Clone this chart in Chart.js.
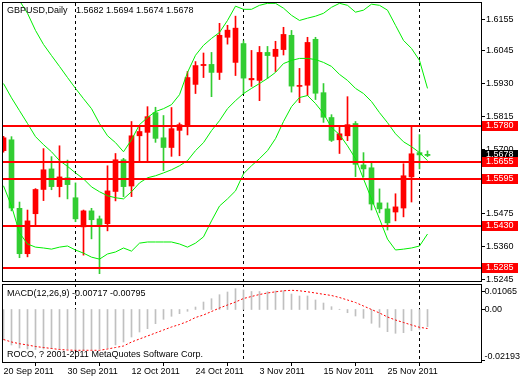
<!DOCTYPE html>
<html><head><meta charset="utf-8">
<script src="https://cdn.jsdelivr.net/npm/chart.js@4/dist/chart.umd.min.js"></script>
<style>
html,body{margin:0;padding:0;background:#fff;width:520px;height:380px;overflow:hidden;}
canvas{position:absolute;left:0;}
#main{top:0}
#macd{top:282px}
</style></head><body>
<canvas id="main" width="520" height="282"></canvas>
<canvas id="macd" width="520" height="98"></canvas>
<script>
// ---------- data ----------
const symbolTitle = 'GBPUSD,Daily';
const lastQuote = '1.5682 1.5694 1.5674 1.5678';
const macdTitle = 'MACD(12,26,9) -0.00717 -0.00795';
const footerText = 'ROCO, ? 2001-2011 MetaQuotes Software Corp.';

const dateTickIdx = [0, 8, 16, 24, 32, 40, 48];
const dateTickLabels = ['20 Sep 2011','30 Sep 2011','12 Oct 2011','24 Oct 2011','3 Nov 2011','15 Nov 2011','25 Nov 2011'];
const separatorIdx = [9, 30, 52];

const open = [1.5695,1.5733,1.5493,1.5334,1.5474,1.5559,1.5631,1.5569,1.5600,1.5530,
1.5428,1.5484,1.5456,1.5439,1.5552,1.5663,1.5571,1.5747,1.5759,1.5828,
1.5740,1.5706,1.5766,1.5780,1.5927,1.5993,1.5997,1.5969,1.6092,1.6004,
1.6070,1.5943,1.5941,1.6039,1.6025,1.6049,1.6099,1.5920,1.5924,1.6085,
1.5898,1.5811,1.5733,1.5747,1.5790,1.5645,1.5635,1.5512,1.5491,1.5480,
1.5494,1.5603,1.5688,1.5682];
const high = [1.5745,1.5744,1.5515,1.5487,1.5562,1.5702,1.5674,1.5712,1.5662,1.5582,
1.5487,1.5493,1.5466,1.5642,1.5685,1.5668,1.5797,1.5780,1.5849,1.5847,
1.5818,1.5846,1.5792,1.5972,1.6007,1.6037,1.6039,1.6141,1.6134,1.6166,
1.6080,1.6046,1.6060,1.6060,1.6078,1.6127,1.6116,1.5983,1.6092,1.6092,
1.5930,1.5821,1.5779,1.5884,1.5797,1.5688,1.5652,1.5561,1.5512,1.5544,
1.5649,1.5779,1.5751,1.5694];
const low = [1.5690,1.5484,1.5320,1.5323,1.5431,1.5520,1.5558,1.5533,1.5526,1.5446,
1.5329,1.5386,1.5264,1.5414,1.5519,1.5534,1.5534,1.5654,1.5657,1.5724,
1.5625,1.5675,1.5677,1.5750,1.5895,1.5951,1.5884,1.5944,1.6068,1.5958,
1.5895,1.5920,1.5870,1.5948,1.5972,1.6030,1.5900,1.5863,1.5888,1.5874,
1.5794,1.5727,1.5685,1.5730,1.5604,1.5603,1.5487,1.5477,1.5417,1.5449,
1.5463,1.5515,1.5631,1.5674];
const close = [1.5740,1.5494,1.5334,1.5449,1.5559,1.5628,1.5569,1.5603,1.5576,1.5456,
1.5484,1.5453,1.5436,1.5554,1.5663,1.5569,1.5747,1.5762,1.5814,1.5738,
1.5706,1.5772,1.5786,1.5951,1.5993,1.5997,1.5969,1.6099,1.6117,1.6124,
1.5949,1.5948,1.6039,1.6028,1.6050,1.6102,1.5921,1.5923,1.6074,1.5896,
1.5812,1.5731,1.5754,1.5786,1.5647,1.5631,1.5508,1.5491,1.5442,1.5498,
1.5607,1.5684,1.5680,1.5678];

const bbUpper = [1.6290,1.6255,1.6220,1.6176,1.6116,1.6067,1.6028,1.5990,1.5951,1.5913,
1.5877,1.5842,1.5790,1.5747,1.5723,1.5691,1.5733,1.5786,1.5811,1.5832,
1.5842,1.5856,1.5891,1.5969,1.6029,1.6064,1.6088,1.6109,1.6151,1.6201,
1.6190,1.6190,1.6204,1.6211,1.6211,1.6194,1.6169,1.6151,1.6159,1.6166,
1.6176,1.6197,1.6211,1.6204,1.6180,1.6187,1.6208,1.6204,1.6187,1.6134,
1.6081,1.6053,1.6011,1.5913];
const bbMiddle = [1.5930,1.5880,1.5835,1.5790,1.5744,1.5716,1.5691,1.5660,1.5640,1.5617,
1.5596,1.5568,1.5551,1.5537,1.5530,1.5526,1.5551,1.5582,1.5600,1.5607,
1.5617,1.5628,1.5642,1.5660,1.5695,1.5723,1.5765,1.5800,1.5842,1.5870,
1.5895,1.5913,1.5930,1.5948,1.5969,1.6000,1.6011,1.6018,1.6018,1.6014,
1.6004,1.5990,1.5962,1.5941,1.5913,1.5895,1.5867,1.5828,1.5793,1.5754,
1.5726,1.5709,1.5688,1.5660];
const bbLower = [1.5572,1.5501,1.5407,1.5368,1.5357,1.5354,1.5350,1.5357,1.5361,1.5347,
1.5336,1.5322,1.5315,1.5333,1.5340,1.5354,1.5343,1.5371,1.5375,1.5375,
1.5375,1.5375,1.5368,1.5357,1.5371,1.5393,1.5449,1.5501,1.5526,1.5554,
1.5614,1.5642,1.5667,1.5695,1.5737,1.5797,1.5849,1.5881,1.5888,1.5860,
1.5825,1.5776,1.5751,1.5712,1.5667,1.5596,1.5526,1.5456,1.5385,1.5347,
1.5350,1.5354,1.5361,1.5403];

const levels = [1.5780, 1.5655, 1.5595, 1.5430, 1.5285];
const lastPrice = 1.5678;
const priceTicks = [1.6155, 1.6045, 1.5930, 1.5815, 1.5700, 1.5475, 1.5360, 1.5245];
const priceMin = 1.52384, priceMax = 1.62121;

const macdMain = [-0.01274,-0.01483,-0.01608,-0.01650,-0.01671,-0.01650,-0.01629,-0.01650,-0.01650,-0.01671,
-0.01692,-0.01671,-0.01650,-0.01608,-0.01483,-0.01358,-0.01149,-0.00940,-0.00802,-0.00593,
-0.00409,-0.00284,-0.00175,-0.00075,0.00104,0.00313,0.00451,0.00618,0.00731,0.00869,
0.00815,0.00752,0.00752,0.00744,0.00773,0.00785,0.00647,0.00564,0.00564,0.00397,
0.00271,0.00117,0.00010,-0.00134,-0.00272,-0.00368,-0.00576,-0.00744,-0.00927,-0.00994,
-0.00969,-0.00886,-0.00827,-0.00717];
const macdSignal = [-0.01253,-0.01358,-0.01429,-0.01483,-0.01546,-0.01587,-0.01629,-0.01671,-0.01692,-0.01704,
-0.01704,-0.01704,-0.01704,-0.01650,-0.01587,-0.01525,-0.01358,-0.01232,-0.01107,-0.00982,
-0.00856,-0.00731,-0.00627,-0.00501,-0.00334,-0.00230,-0.00084,0.00063,0.00188,0.00313,
0.00459,0.00543,0.00627,0.00689,0.00739,0.00781,0.00802,0.00781,0.00739,0.00689,
0.00635,0.00585,0.00501,0.00397,0.00292,0.00146,0.00000,-0.00146,-0.00313,-0.00439,
-0.00543,-0.00647,-0.00744,-0.00795];
const macdTicks = [0.01065, 0, -0.02193];
const macdTickLabels = ['0.01065', '0.00', '-0.02193'];

// ---------- styling ----------
const FAMILY = "'Liberation Sans', Arial, sans-serif";
const FONT = '9px ' + FAMILY;
const BULL = '#ff0000', BEAR = '#32cd32', BAND = '#00ee00';
const XMIN = -0.0625, XMAX = 59.6875;

Chart.defaults.font.family = FAMILY;
Chart.defaults.font.size = 9;
Chart.defaults.color = '#000';

const idx = open.map((_, i) => i);
const candleColor = idx.map(i => close[i] >= open[i] ? BULL : BEAR);

function drawSeparators(chart) {
  const {ctx, chartArea: a, scales: {x}} = chart;
  ctx.save();
  ctx.strokeStyle = '#000'; ctx.lineWidth = 1; ctx.setLineDash([3, 3]);
  separatorIdx.forEach(i => {
    const px = Math.floor(x.getPixelForValue(i)) + 0.5;
    ctx.beginPath(); ctx.moveTo(px, a.top); ctx.lineTo(px, a.bottom); ctx.stroke();
  });
  ctx.restore();
}

const mainDecor = {
  id: 'mainDecor',
  beforeDatasetsDraw(chart) { drawSeparators(chart); },
  afterDatasetsDraw(chart) {
    const {ctx, chartArea: a, scales: {y}} = chart;
    ctx.save();
    ctx.fillStyle = '#ff0000';
    levels.forEach(v => {
      const py = Math.round(y.getPixelForValue(v));
      ctx.fillRect(a.left - 1, py - 1, a.right - a.left + 1, 2);
    });
    ctx.restore();
  },
  afterDraw(chart) {
    const {ctx, chartArea: a, scales: {y}} = chart;
    ctx.save();
    ctx.fillStyle = '#000';
    ctx.fillRect(2, 2, 480, 1);
    ctx.fillRect(2, 2, 1, a.bottom - 1);
    ctx.fillRect(2, a.bottom, 480, 1);
    ctx.fillRect(481, 2, 1, a.bottom - 1);
    ctx.font = FONT; ctx.textBaseline = 'middle'; ctx.textAlign = 'left';
    ctx.fillText(symbolTitle, 7, 11);
    ctx.fillText(lastQuote, 76, 11);
    // current price marker
    const pl = Math.round(y.getPixelForValue(lastPrice));
    ctx.fillStyle = '#000';
    ctx.fillRect(482, pl - 5, 36, 10);
    ctx.fillStyle = '#fff';
    ctx.fillText(lastPrice.toFixed(4), 486, pl);
    // level markers
    levels.forEach(v => {
      const py = Math.round(y.getPixelForValue(v));
      ctx.fillStyle = '#ff0000';
      ctx.fillRect(482, py - 5, 36, 10);
      ctx.fillStyle = '#fff';
      ctx.fillText(v.toFixed(4), 486, py);
    });
    ctx.restore();
  }
};

new Chart(document.getElementById('main'), {
  type: 'bar',
  data: {
    datasets: [
      {type: 'line', data: idx.map(i => ({x: i, y: bbUpper[i]})), borderColor: BAND, borderWidth: 1, pointRadius: 0, tension: 0, order: 0},
      {type: 'line', data: idx.map(i => ({x: i, y: bbMiddle[i]})), borderColor: BAND, borderWidth: 1, pointRadius: 0, tension: 0, order: 0},
      {type: 'line', data: idx.map(i => ({x: i, y: bbLower[i]})), borderColor: BAND, borderWidth: 1, pointRadius: 0, tension: 0, order: 0},
      {type: 'bar', data: idx.map(i => ({x: i, y: [open[i], close[i]]})), backgroundColor: candleColor, borderWidth: 0,
       barThickness: 5, maxBarThickness: 5, minBarLength: 1, grouped: false, order: 1},
      {type: 'bar', data: idx.map(i => ({x: i, y: [low[i], high[i]]})), backgroundColor: candleColor, borderWidth: 0,
       barThickness: 1, maxBarThickness: 1, minBarLength: 1, grouped: false, order: 2}
    ]
  },
  options: {
    responsive: false, animation: false, devicePixelRatio: 1, events: [],
    layout: {padding: {left: 3, top: 3, right: 0, bottom: 1}},
    plugins: {legend: {display: false}, tooltip: {enabled: false}},
    scales: {
      x: {type: 'linear', min: XMIN, max: XMAX, offset: false, display: false},
      y: {
        position: 'right', min: priceMin, max: priceMax,
        afterBuildTicks(s) { s.ticks = priceTicks.map(v => ({value: v})); },
        afterFit(s) { s.width = 39; s.paddingTop = 0; s.paddingBottom = 0; },
        border: {display: false},
        grid: {display: true, drawOnChartArea: false, drawTicks: true, tickLength: 4, color: '#000'},
        ticks: {color: '#000', font: {family: FAMILY, size: 9}, padding: 1, callback: v => Number(v).toFixed(4)}
      }
    }
  },
  plugins: [mainDecor]
});

const macdDecor = {
  id: 'macdDecor',
  beforeDatasetsDraw(chart) { drawSeparators(chart); },
  afterDraw(chart) {
    const {ctx, chartArea: a, scales: {y}} = chart;
    ctx.save();
    ctx.fillStyle = '#000';
    ctx.fillRect(2, a.top, 480, 1);
    ctx.fillRect(2, a.top, 1, a.bottom - a.top);
    ctx.fillRect(2, a.bottom, 480, 1);
    ctx.fillRect(481, a.top, 1, a.bottom - a.top + 1);
    ctx.font = FONT; ctx.textBaseline = 'middle'; ctx.textAlign = 'left';
    macdTicks.forEach((v, k) => {
      let ty = Math.round(y.getPixelForValue(v));
      let ly = ty;
      if (ty < a.top + 7) { ty = a.top + 7; ly = ty; }
      if (ty > a.bottom - 2) { ty = a.bottom - 2; ly = ty - 4; }
      ctx.fillRect(481, ty, 4, 1);
      ctx.fillText(macdTickLabels[k], 484.5, ly + 0.5);
    });
    ctx.fillText(macdTitle, 7, 11.5);
    ctx.fillText(footerText, 7, 72.5);
    ctx.restore();
  }
};

new Chart(document.getElementById('macd'), {
  type: 'bar',
  data: {
    datasets: [
      {type: 'line', data: idx.map(i => ({x: i, y: macdSignal[i]})), borderColor: '#ff0000', borderWidth: 1,
       borderDash: [2, 2], pointRadius: 0, tension: 0, order: 0},
      {type: 'bar', data: idx.map(i => ({x: i, y: macdMain[i]})), backgroundColor: '#c0c0c0', borderWidth: 0,
       barThickness: 1, maxBarThickness: 1, order: 1}
    ]
  },
  options: {
    responsive: false, animation: false, devicePixelRatio: 1, events: [],
    layout: {padding: {left: 3, top: 2, right: 0, bottom: 0}},
    plugins: {legend: {display: false}, tooltip: {enabled: false}},
    scales: {
      x: {
        type: 'linear', min: XMIN, max: XMAX, offset: false, position: 'bottom',
        afterBuildTicks(s) { s.ticks = dateTickIdx.map(v => ({value: v})); },
        afterFit(s) { s.height = 18; s.paddingLeft = 0; s.paddingRight = 0; },
        border: {display: false},
        grid: {display: true, drawOnChartArea: false, drawTicks: true, tickLength: 4, color: '#000'},
        ticks: {autoSkip: false, maxRotation: 0, minRotation: 0, align: 'start', padding: 0, color: '#000',
                font: {family: FAMILY, size: 9},
                callback: v => dateTickLabels[dateTickIdx.indexOf(Math.round(v))] || ''}
      },
      y: {
        position: 'right', min: macdTicks[2], max: macdTicks[0],
        afterFit(s) { s.width = 39; s.paddingTop = 0; s.paddingBottom = 0; },
        border: {display: false}, grid: {display: false}, ticks: {display: false}
      }
    }
  },
  plugins: [macdDecor]
});
</script>
</body></html>
